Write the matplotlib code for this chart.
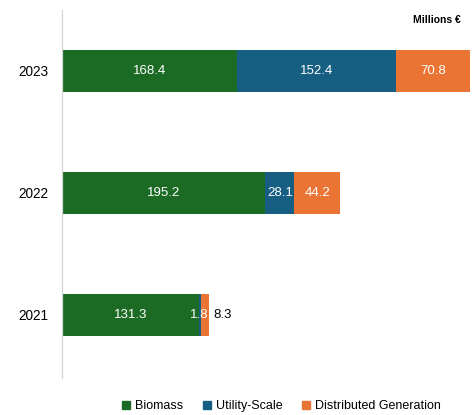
import numpy as np
import matplotlib.pyplot as plt

years = ["2021", "2022", "2023"]
biomass = [131.3, 195.2, 168.4]
utility = [1.8, 28.1, 152.4]
distributed = [8.3, 44.2, 70.8]
series_names = ["Biomass", "Utility-Scale", "Distributed Generation"]
colors = ["#1b6b24", "#165e82", "#e97434"]

plt.rcParams['font.family'] = ['Liberation Sans', 'DejaVu Sans']

fig = plt.figure(figsize=(4.75, 4.15), dpi=100)
ax = fig.add_axes([62/475, 37/415, 408/475, 368/415])

y = np.arange(len(years))
left = np.zeros(len(years))
for vals, name, col in zip([biomass, utility, distributed], series_names, colors):
    vals = np.array(vals)
    bars = ax.barh(y, vals, left=left, height=0.345, color=col, label=name,
                   edgecolor='none')
    for b, v, l in zip(bars, vals, left):
        cy = b.get_y() + b.get_height() / 2
        if 5 < v < 10:
            # too small to hold its label, put it after the bar
            ax.text(l + v + 4, cy, f"{v:.1f}", color='black', ha='left',
                    va='center', fontsize=9.5)
        else:
            ax.text(l + v / 2, cy, f"{v:.1f}", color='white', ha='center',
                    va='center', fontsize=9.5)
    left = left + vals

ax.set_xlim(0, 392)
ax.set_ylim(-0.52, 2.5)
ax.set_yticks(y)
ax.set_yticklabels(years, fontsize=9.8)
ax.set_xticks([])
ax.tick_params(axis='y', length=0, pad=10)
for s in ['top', 'right', 'bottom']:
    ax.spines[s].set_visible(False)
ax.spines['left'].set_color('#d4d4d4')
ax.spines['left'].set_linewidth(0.9)

fig.text(461/475, 1 - 20/415, "Millions €", ha='right', va='center',
         fontsize=7.5, fontweight='bold')

handles = [plt.Line2D([], [], marker='s', linestyle='none', color=c,
                      markersize=5.3) for c in colors]
fig.legend(handles, series_names, loc='center', ncol=3,
           bbox_to_anchor=(281/475, 1 - 406/415), frameon=False,
           fontsize=9, handletextpad=0.3, columnspacing=1.5,
           handlelength=0.8, borderpad=0)

fig.savefig("out.png", dpi=100)
